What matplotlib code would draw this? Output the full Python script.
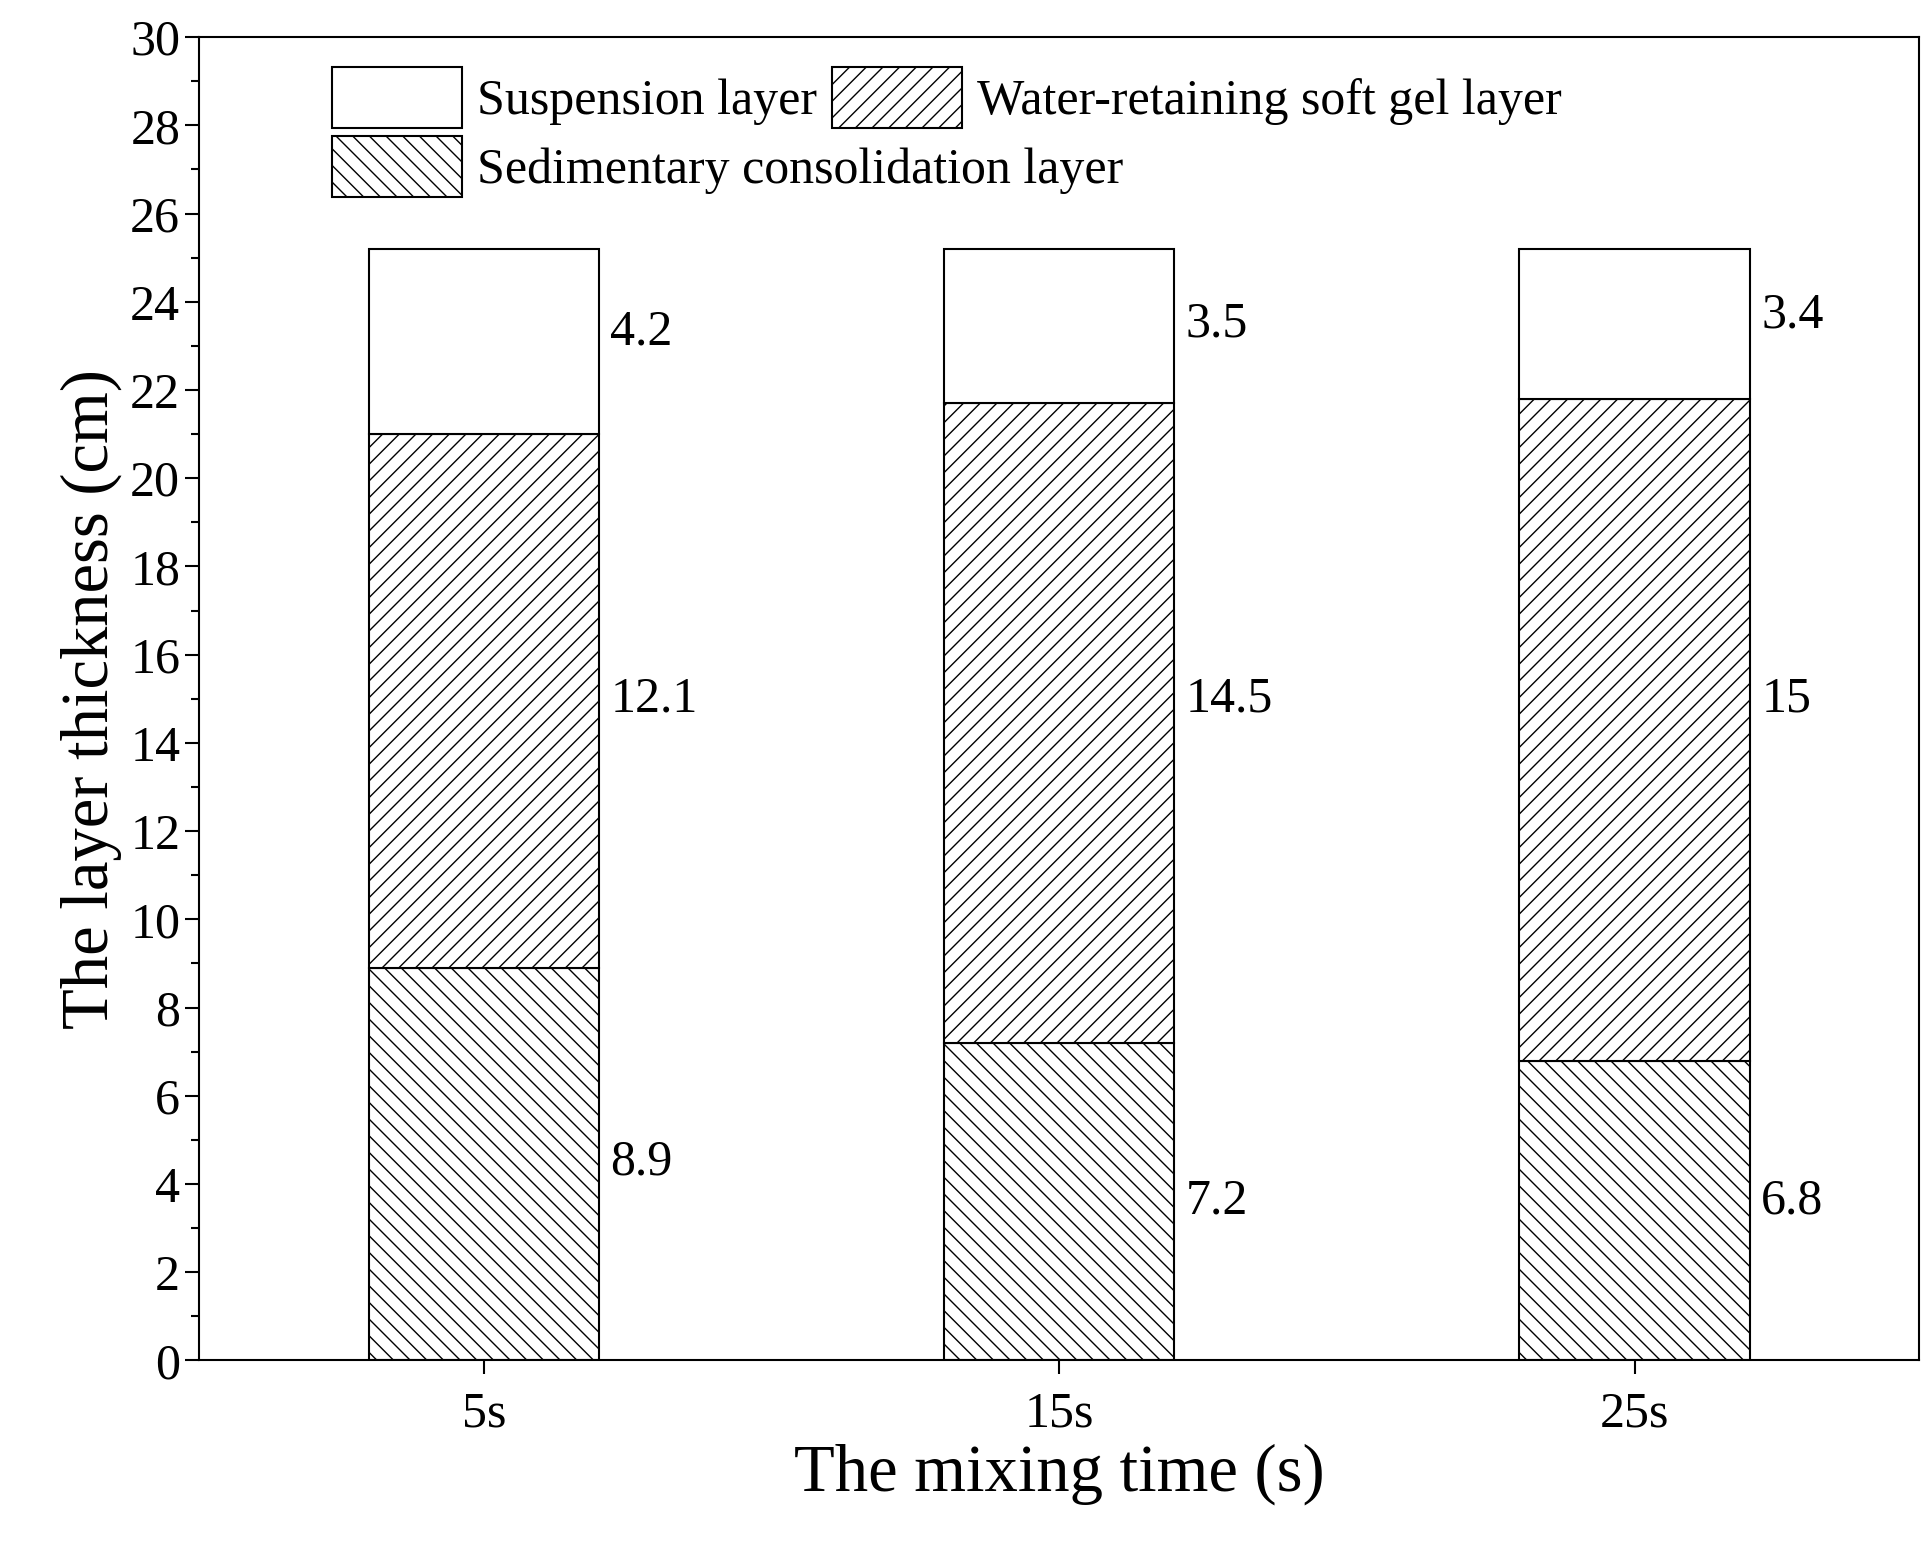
import matplotlib
matplotlib.use("Agg")
import matplotlib.pyplot as plt
from matplotlib.ticker import MultipleLocator

plt.rcParams['font.family'] = ['Liberation Serif', 'DejaVu Serif']
plt.rcParams['hatch.linewidth'] = 1.0

categories = ['5s', '15s', '25s']
sediment = [8.9, 7.2, 6.8]
water = [12.1, 14.5, 15]
suspension = [4.2, 3.5, 3.4]
label_y_sed = [4.5, 3.6, 3.6]
label_y_water = [15, 15, 15]
label_y_susp = [23.3, 23.5, 23.7]

fig = plt.figure(figsize=(19.31, 15.46), dpi=100)
ax = fig.add_axes([0.103, 0.12, 0.891, 0.856])
x = list(range(len(categories)))
w = 0.4
b1 = ax.bar(x, sediment, w, color='white', edgecolor='black', hatch='\\\\', linewidth=1.5,
            label='Sedimentary consolidation layer')
b2 = ax.bar(x, water, w, bottom=sediment, color='white', edgecolor='black', hatch='//', linewidth=1.5,
            label='Water-retaining soft gel layer')
bot3 = [a + b for a, b in zip(sediment, water)]
b3 = ax.bar(x, suspension, w, bottom=bot3, color='white', edgecolor='black', linewidth=1.5,
            label='Suspension layer')
for i in x:
    for vals, ys in ((sediment, label_y_sed), (water, label_y_water), (suspension, label_y_susp)):
        ax.text(i + 0.22, ys[i], f"{vals[i]:g}", fontsize=36, va='center', ha='left')

ax.set_xlim(-0.495, 2.495)
ax.set_ylim(0, 30)
ax.yaxis.set_major_locator(MultipleLocator(2))
ax.yaxis.set_minor_locator(MultipleLocator(1))
ax.set_xticks(x)
ax.set_xticklabels(categories)
ax.tick_params(axis='both', which='major', labelsize=36, length=10, width=1.5, direction='out')
ax.tick_params(axis='x', which='major', pad=12)
ax.tick_params(axis='y', which='minor', length=6, width=1.5)
for s in ax.spines.values():
    s.set_linewidth(1.5)
ax.set_xlabel('The mixing time (s)', fontsize=48, labelpad=4)
ax.set_ylabel('The layer thickness (cm)', fontsize=48, labelpad=6)

kw = dict(frameon=False, fontsize=36, handlelength=2.6, handleheight=1.5, columnspacing=0.3,
          handletextpad=0.3, borderaxespad=0.2)
leg1 = ax.legend([b3, b2], ['Suspension layer', 'Water-retaining soft gel layer'], ncol=2,
                 loc='upper left', bbox_to_anchor=(0.06, 1.0), **kw)
ax.add_artist(leg1)
ax.legend([b1], ['Sedimentary consolidation layer'], loc='upper left',
          bbox_to_anchor=(0.06, 0.948), **kw)
fig.savefig('out.png', dpi=100)
